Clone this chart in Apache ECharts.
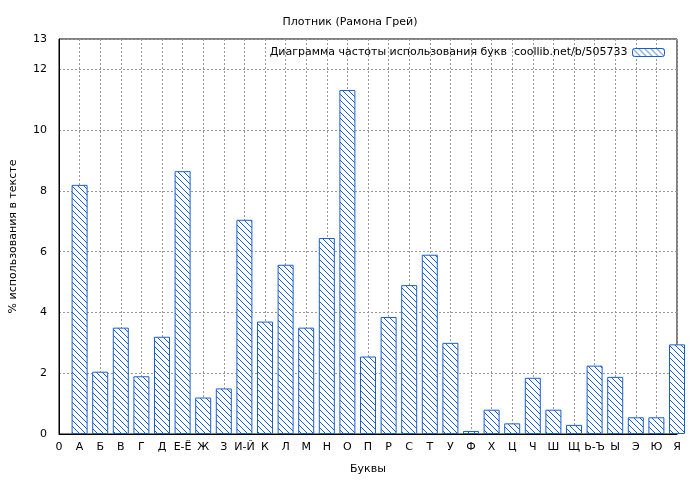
<!DOCTYPE html>
<html><head><meta charset="utf-8">
<script src="https://cdn.jsdelivr.net/npm/echarts@6/dist/echarts.min.js"></script>
<style>html,body{margin:0;background:#fff}#c{width:700px;height:480px}</style>
</head><body><div id="c"></div>
<script>
// буквы и частоты
var letters = ["0","А","Б","В","Г","Д","Е-Ё","Ж","З","И-Й","К","Л","М","Н","О","П","Р","С","Т","У","Ф","Х","Ц","Ч","Ш","Щ","Ь-Ъ","Ы","Э","Ю","Я"];
var freq = [null,8.2,2.05,3.5,1.9,3.2,8.65,1.2,1.5,7.05,3.7,5.57,3.5,6.45,11.32,2.55,3.85,4.9,5.9,3.0,0.1,0.8,0.35,1.85,0.8,0.3,2.25,1.88,0.55,0.55,2.95];

// штриховка
var pat = document.createElement("canvas");
pat.width = 6; pat.height = 6;
var g = pat.getContext("2d");
g.fillStyle = "#fff"; g.fillRect(0,0,6,6);
g.strokeStyle = "#1a5fd0"; g.lineWidth = 1;
g.beginPath(); g.moveTo(0,0); g.lineTo(6,6); g.moveTo(-3,3); g.lineTo(3,9); g.moveTo(3,-3); g.lineTo(9,3); g.stroke();

var chart = echarts.init(document.getElementById("c"));
var font = "DejaVu Sans";
chart.setOption({
  animation: false,
  textStyle: { fontFamily: font },
  title: { text: "Плотник (Рамона Грей)", left: "center", top: 12,
    textStyle: { fontSize: 11, fontWeight: "normal", color: "#000", fontFamily: font } },
  legend: { right: 30, top: 42, align: "right", itemWidth: 32, itemHeight: 8,
    textStyle: { fontSize: 11, color: "#000", fontFamily: font },
    data: [{ name: "Диаграмма частоты использования букв  coollib.net/b/505733",
      itemStyle: { color: { image: pat, repeat: "repeat" }, borderColor: "#1a5fd0", borderWidth: 1 } }] },
  grid: { left: 54, right: 23, top: 39, bottom: 46, show: true, borderColor: "#000", borderWidth: 1 },
  xAxis: { type: "category", data: letters, boundaryGap: false,
    name: "Буквы", nameLocation: "middle", nameGap: 30,
    nameTextStyle: { fontSize: 11, color: "#000" },
    axisLine: { lineStyle: { color: "#000" } }, axisTick: { show: false },
    axisLabel: { fontSize: 11, color: "#000", interval: 0, margin: 8 },
    splitLine: { show: true, lineStyle: { color: "#999", type: [2,2] } } },
  yAxis: { type: "value", min: 0, max: 13, interval: 2,
    name: "% использования в тексте", nameLocation: "middle", nameGap: 40,
    nameTextStyle: { fontSize: 11, color: "#000" },
    axisLine: { show: true, lineStyle: { color: "#000" } }, axisTick: { show: false },
    axisLabel: { fontSize: 11, color: "#000", margin: 12 },
    splitLine: { lineStyle: { color: "#999", type: [2,2] } } },
  series: [{ name: "Диаграмма частоты использования букв  coollib.net/b/505733",
    type: "bar", data: freq, barWidth: 16, clip: true,
    itemStyle: { color: { image: pat, repeat: "repeat" }, borderColor: "#1a5fd0", borderWidth: 1 } }]
});
</script></body></html>
